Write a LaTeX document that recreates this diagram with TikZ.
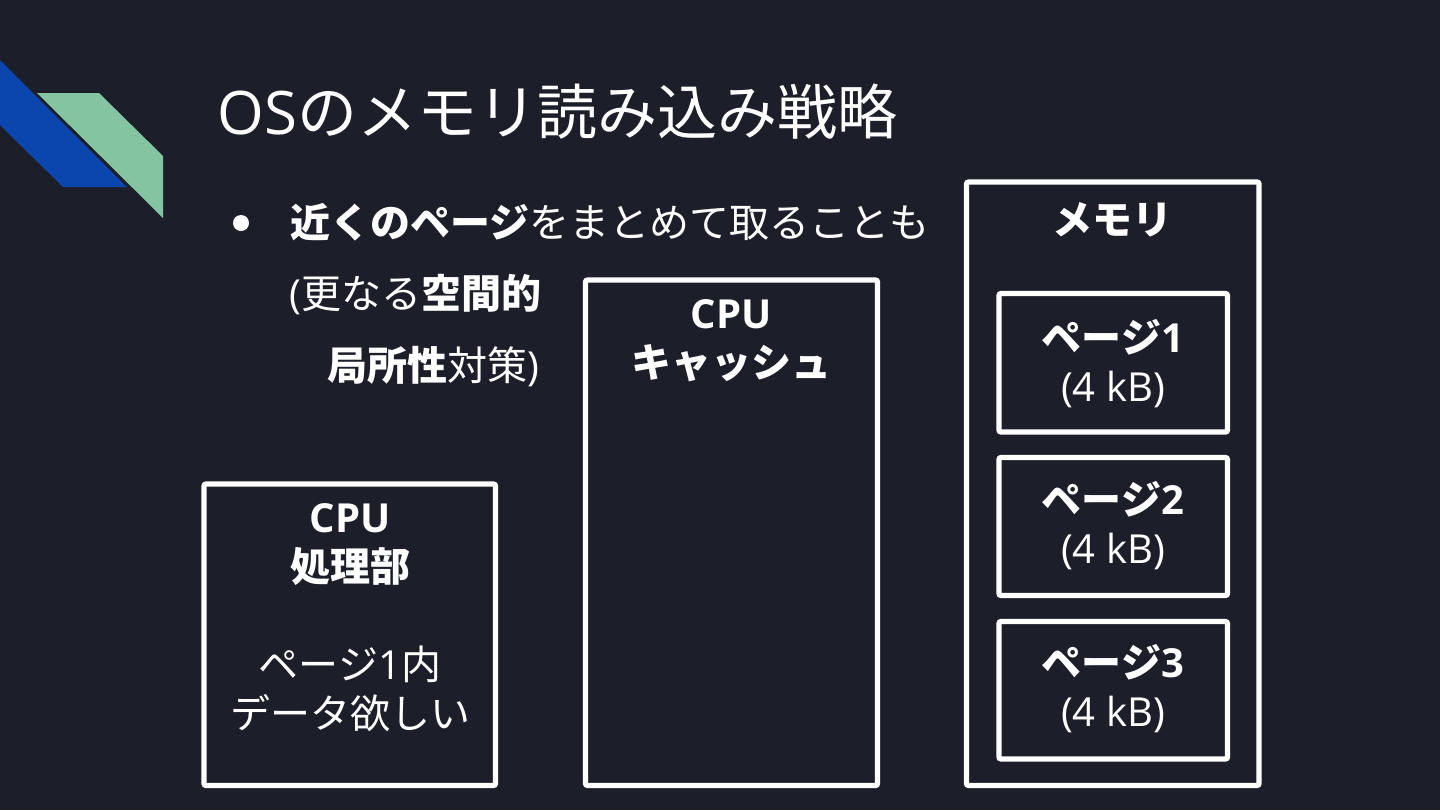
\documentclass[tikz,border=0pt]{standalone}
\usepackage{fontspec}
\setmainfont{Open Sans}
\newfontfamily\jpf{Noto Sans CJK JP}
\definecolor{bg}{HTML}{1C1F2A}
\definecolor{decoblue}{HTML}{0B46AE}
\definecolor{decogreen}{HTML}{85C4A1}
\tikzset{
  box/.style={draw=white, line width=2.6pt, rounded corners=1pt},
  txt/.style={text=white, inner sep=0pt, font=\fontsize{20}{24.5}\selectfont},
  boxtxt/.style={txt, align=center},
}
\begin{document}
\begin{tikzpicture}[x=0.5pt,y=-0.5pt]
\fill[bg] (0,0) rectangle (1440,810);
\useasboundingbox (0,0) rectangle (1440,810);
% decoration
\fill[decoblue] (0,60) -- (127,187) -- (63,187) -- (0,125) -- cycle;
\fill[decogreen] (37,93) -- (99,93) -- (163,156) -- (163,218) -- cycle;
% title
\node[txt, anchor=west, font=\fontsize{30}{36}\selectfont] (title) at (217,112) {OS{\jpf のメモリ読み込み戦略}};
% bullet text
\node[circle, fill=white, inner sep=0pt, minimum size=8pt] (bullet) at (241,223) {};
\node[txt, anchor=west] (l1) at (290,222) {{\jpf\bfseries 近くのページ}{\jpf をまとめて取ることも}};
\node[txt, anchor=west] (l2) at (289,295) {({\jpf 更なる}{\jpf\bfseries 空間的}};
\node[txt, anchor=west] (l3) at (327,367) {{\jpf\bfseries 局所性}{\jpf 対策})};
% boxes
\draw[box] (204,484) rectangle (495.5,785.5);
\draw[box] (585.5,280) rectangle (877.5,785.5);
\draw[box] (966.5,182) rectangle (1259,785.5);
\draw[box] (999,293.5) rectangle (1227.5,432);
\draw[box] (999,457.5) rectangle (1227.5,595.5);
\draw[box] (999,621.5) rectangle (1227.5,759);
% box texts
\node[boxtxt, font=\fontsize{20}{24.5}\selectfont\bfseries] (cpuT) at (350,545) {CPU\\{\jpf 処理部}};
\node[boxtxt] (cpuD) at (350,689) {{\jpf ページ}1{\jpf 内}\\{\jpf データ欲しい}};
\node[boxtxt, font=\fontsize{20}{24.5}\selectfont\bfseries] (cache) at (731,341) {CPU\\{\jpf キャッシュ}};
\node[boxtxt, font=\fontsize{20}{24.5}\selectfont\bfseries] (mem) at (1112,220) {{\jpf メモリ}};
\node[boxtxt] (p1) at (1113,364) {{\bfseries\jpf ページ}{\bfseries 1}\\(4 kB)};
\node[boxtxt] (p2) at (1113,526) {{\bfseries\jpf ページ}{\bfseries 2}\\(4 kB)};
\node[boxtxt] (p3) at (1113,689) {{\bfseries\jpf ページ}{\bfseries 3}\\(4 kB)};
\end{tikzpicture}
\end{document}
